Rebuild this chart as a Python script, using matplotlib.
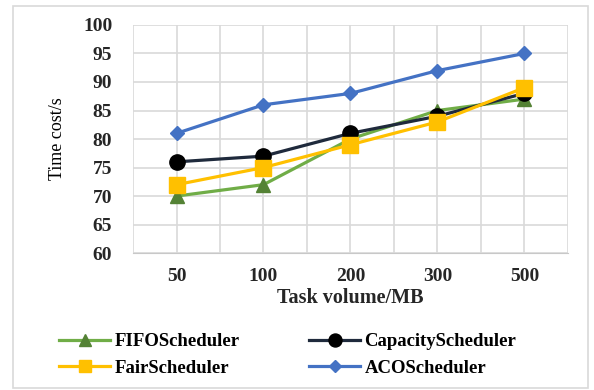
import numpy as np
import matplotlib.pyplot as plt
from matplotlib.patches import Rectangle

# datos
volumes = ["50", "100", "200", "300", "500"]
fifo = [70, 72, 80, 85, 87]
capacity = [76, 77, 81, 84, 88]
fair = [72, 75, 79, 83, 89]
aco = [81, 86, 88, 92, 95]

plt.rcParams["font.family"] = ["Liberation Serif", "DejaVu Serif"]

fig = plt.figure(figsize=(5.94, 3.9), dpi=100)
ax = fig.add_axes([0.224, 0.351, 0.732, 0.585])

# marco exterior
fig.patches.append(Rectangle((0.022, 0.005), 0.968, 0.98, transform=fig.transFigure,
                             fill=False, edgecolor="#d9d9d9", linewidth=1.2))

x = np.arange(len(volumes))
ax.plot(x, fifo, color="#70ad47", lw=2.3, marker="^", ms=10,
        mfc="#548235", mec="#548235", label="FIFOScheduler")
ax.plot(x, capacity, color="#1f2a3c", lw=2.3, marker="o", ms=11,
        mfc="black", mec="black", label="CapacityScheduler")
ax.plot(x, fair, color="#ffc000", lw=2.3, marker="s", ms=11,
        mfc="#ffc000", mec="#ffc000", label="FairScheduler")
ax.plot(x, aco, color="#4472c4", lw=2.3, marker="D", ms=7,
        mfc="#4472c4", mec="#4472c4", label="ACOScheduler")

ax.set_xlim(-0.5, len(volumes) - 0.5)
ax.set_ylim(60, 100)
ax.set_yticks(range(60, 101, 5))
ax.set_xticks(x)
ax.set_xticklabels(volumes)
ax.set_xticks(np.arange(-0.5, len(volumes), 1), minor=True)
ax.grid(True, which="both", color="#d9d9d9", lw=1.2)
ax.tick_params(which="both", length=0)
ax.tick_params(axis="x", pad=11)
ax.tick_params(axis="y", pad=15)
for lab in ax.get_xticklabels() + ax.get_yticklabels():
    lab.set_fontweight("bold")
    lab.set_fontsize(14)
    lab.set_color("#262626")
ax.set_axisbelow(True)
for s in ax.spines.values():
    s.set_visible(False)
ax.spines["bottom"].set_visible(True)
ax.spines["bottom"].set_color("#c8c8c8")

ax.set_xlabel("Task volume/MB", fontsize=14.5, fontweight="bold", labelpad=2,
              color="#262626")
ax.set_ylabel("Time cost/s", fontsize=13, labelpad=12)

handles, labels = ax.get_legend_handles_labels()
order = [0, 2, 1, 3]
fig.legend([handles[i] for i in order], [labels[i] for i in order],
           loc="upper left", bbox_to_anchor=(50 / 594, 1 - 324 / 390), ncol=2,
           frameon=False, borderpad=0,
           prop={"weight": "bold", "size": 13.5}, handlelength=2.7,
           handletextpad=0.25, columnspacing=3.7, labelspacing=0.5,
           markerscale=0.85)

fig.savefig("out.png", dpi=100)
